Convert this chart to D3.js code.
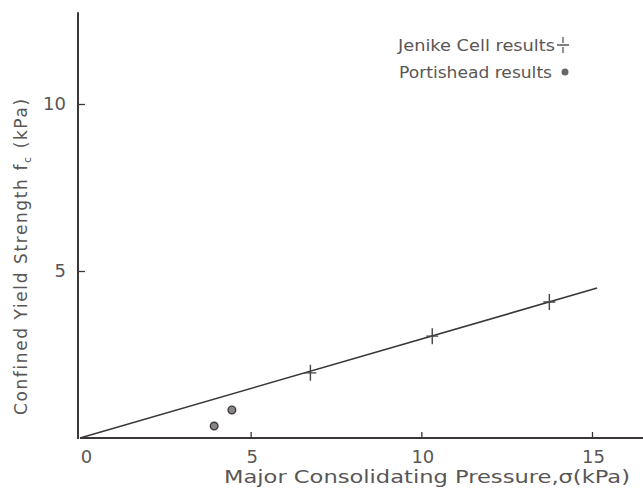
<!DOCTYPE html>
<html>
<head>
<meta charset="utf-8">
<script src="https://cdn.jsdelivr.net/npm/d3@7"></script>
<style>
  html, body { margin: 0; padding: 0; background: #fff; }
  svg { display: block; }
  text { font-family: "DejaVu Sans", "Noto Sans", sans-serif; fill: #5a5656; }
</style>
</head>
<body>
<svg id="chart" width="643" height="497"></svg>
<script>
// Jenike shear cell results: major consolidating pressure vs confined yield strength (kPa)
const jenikeSigma = [6.75, 10.32, 13.75];
const jenikeFc = [1.95, 3.05, 4.07];

// Portishead results
const portSigma = [3.93, 4.45];
const portFc = [0.36, 0.84];

// Fitted flow function line (through origin)
const fitSigma = [0, 15.15];
const fitFc = [0, 4.49];

const xTicks = [0, 5, 10, 15];
const yTicks = [5, 10];
const xTickLabels = ["0", "5", "10", "15"];
const yTickLabels = ["5", "10"];

const legendLabels = ["Jenike Cell results", "Portishead results"];

const svg = d3.select("#chart");
const ink = "#3b3737";

const x = d3.scaleLinear().domain([0, 15]).range([80, 592]);
const y = d3.scaleLinear().domain([0, 10]).range([438, 104]);

// x axis: ticks point up into the plot
const xAxis = d3.axisBottom(x)
  .tickValues(xTicks)
  .tickFormat((d, i) => xTickLabels[i])
  .tickSizeInner(-6)
  .tickSizeOuter(0)
  .tickPadding(12);
const gx = svg.append("g").attr("transform", `translate(0,${y(0)})`).call(xAxis);
gx.select(".domain").remove();
gx.append("line")
  .attr("x1", x(0)).attr("x2", x(16.6))
  .attr("stroke", ink).attr("stroke-width", 2);
gx.selectAll(".tick line").attr("stroke", ink).attr("stroke-width", 1.3);
gx.selectAll(".tick").filter(d => d === 0).select("line").remove();
gx.selectAll(".tick text")
  .style("font-size", "18px")
  .style("font-family", "DejaVu Sans")
  .attr("dx", d => d === 0 ? 6 : 1)
  .attr("fill", "#5a5656");

// y axis: ticks point right into the plot
const yAxis = d3.axisLeft(y)
  .tickValues(yTicks)
  .tickFormat((d, i) => yTickLabels[i])
  .tickSizeInner(-7)
  .tickSizeOuter(0)
  .tickPadding(12);
const gy = svg.append("g").attr("transform", `translate(${x(0) - 2},0)`).call(yAxis);
gy.select(".domain").remove();
gy.append("line")
  .attr("y1", y(0) + 1).attr("y2", y(12.75))
  .attr("stroke", ink).attr("stroke-width", 2);
gy.selectAll(".tick line").attr("stroke", ink).attr("stroke-width", 1.3);
gy.selectAll(".tick text")
  .style("font-size", "18px")
  .style("font-family", "DejaVu Sans")
  .attr("fill", "#5a5656");

// fitted line
const line = d3.line().x(d => x(d[0])).y(d => y(d[1]));
svg.append("path")
  .datum(fitSigma.map((s, i) => [s, fitFc[i]]))
  .attr("d", line)
  .attr("fill", "none")
  .attr("stroke", ink)
  .attr("stroke-width", 1.6);

// cross markers
function crossPath(cx, cy, h, v) {
  return `M${cx - h},${cy}H${cx + h}M${cx},${cy - v}V${cy + v}`;
}
svg.append("g").selectAll("path")
  .data(jenikeSigma.map((s, i) => [s, jenikeFc[i]]))
  .join("path")
  .attr("d", d => crossPath(x(d[0]), y(d[1]), 6, 8))
  .attr("stroke", "#444")
  .attr("stroke-width", 1.4)
  .attr("fill", "none");

// dot markers
svg.append("g").selectAll("circle")
  .data(portSigma.map((s, i) => [s, portFc[i]]))
  .join("circle")
  .attr("cx", d => x(d[0]))
  .attr("cy", d => y(d[1]))
  .attr("r", 3.8)
  .attr("fill", "#8a8585")
  .attr("stroke", "#3f3b3b")
  .attr("stroke-width", 1.4);

// legend
const legend = svg.append("g");
legend.selectAll("text")
  .data(legendLabels)
  .join("text")
  .attr("x", (d, i) => i === 0 ? 398 : 399)
  .attr("y", (d, i) => 51 + i * 27)
  .attr("textLength", (d, i) => i === 0 ? 157 : 153)
  .attr("lengthAdjust", "spacingAndGlyphs")
  .style("font-size", "16px")
  .text(d => d);
legend.append("path")
  .attr("d", "M557,45H569M563,37V43M563,47V53")
  .attr("stroke", "#555").attr("stroke-width", 1.3);
legend.append("circle")
  .attr("cx", 565).attr("cy", 72).attr("r", 3.5).attr("fill", "#666");

// axis titles
svg.append("text")
  .attr("x", 224).attr("y", 483)
  .attr("textLength", 406)
  .attr("lengthAdjust", "spacingAndGlyphs")
  .style("font-size", "17px")
  .text("Major Consolidating Pressure,σ(kPa)");

const yt = svg.append("text")
  .attr("transform", "translate(27,415) rotate(-90)")
  .style("font-size", "17px")
  .style("letter-spacing", "1.6px");
yt.append("tspan").text("Confined Yield Strength f");
yt.append("tspan").attr("dy", 4).style("font-size", "11px").text("c");
yt.append("tspan").attr("dy", -4).text(" (kPa)");
</script>
</body>
</html>
